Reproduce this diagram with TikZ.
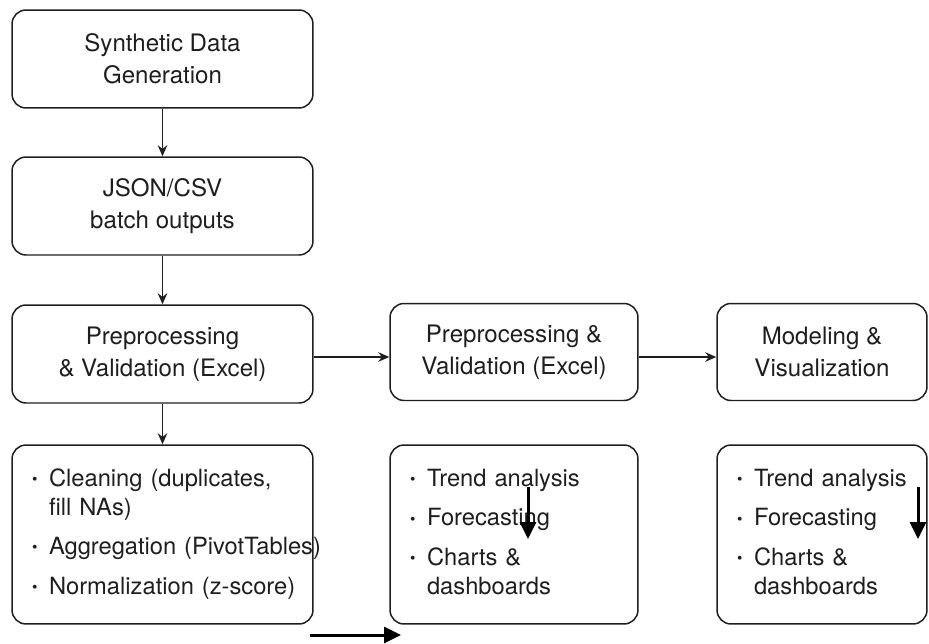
\documentclass[tikz,border=0pt]{standalone}
\usepackage{fontspec}
\setmainfont{TeX Gyre Heros}
\usepackage{xcolor}
\usetikzlibrary{arrows.meta, positioning, calc}
\definecolor{flowink}{HTML}{1E1E1E}

\newcommand{\itm}{\makebox[0.34cm][l]{\raisebox{0.15ex}{\scalebox{0.65}{\textbullet}}}}

\begin{document}
\begin{tikzpicture}[
    x=0.02cm, y=-0.02cm,
    stage/.style={draw=flowink,line width=0.85pt,rounded corners=0.28cm,align=center,
      font=\fontsize{13.7}{18}\selectfont,text=flowink,inner sep=0pt},
    headbox/.style={stage,minimum height=1.94cm},
    listbox/.style={stage,minimum height=3.58cm,align=left,inner xsep=0.4cm,
      font=\fontsize{13.5}{16.4}\selectfont},
    link/.style={-{Stealth[length=0.22cm,width=0.19cm]},line width=0.8pt,flowink},
    stray/.style={-{Triangle[length=0.34cm,width=0.32cm]},line width=1.7pt,black},
  ]
    \useasboundingbox (0,0) rectangle (929,643);

    % left column
    \node[headbox,minimum width=6.02cm,minimum height=1.96cm] (synth) at (162.5,59)
      {Synthetic Data\\Generation};
    \node[headbox,minimum width=6.02cm,minimum height=1.96cm] (batch) at (162.5,206)
      {JSON/CSV\\batch outputs};
    \node[headbox,minimum width=6.02cm,minimum height=1.96cm] (prepleft) at (162.5,354)
      {Preprocessing\\\& Validation (Excel)};
    \node[listbox,text width=5.22cm] (cleaning) at (162.5,534.5) {%
      \begin{tabular}{@{}l@{}l@{}}
        \itm & Cleaning (duplicates,\\
             & fill NAs)\\[6pt]
        \itm & Aggregation (PivotTables)\\[6pt]
        \itm & Normalization (z-score)
      \end{tabular}};

    % middle and right columns
    \node[headbox,minimum width=4.96cm] (prepmid) at (514,352)
      {Preprocessing \&\\Validation (Excel)};
    \node[headbox,minimum width=4.2cm] (modeling) at (822,352)
      {Modeling \&\\Visualization};
    \node[listbox,text width=4.16cm] (trendmid) at (514,534.5) {%
      \begin{tabular}{@{}l@{}l@{}}
        \itm & Trend analysis\\[6pt]
        \itm & Forecasting\\[6pt]
        \itm & Charts \&\\
             & dashboards
      \end{tabular}};
    \node[listbox,text width=3.4cm] (trendright) at (822,534.5) {%
      \begin{tabular}{@{}l@{}l@{}}
        \itm & Trend analysis\\[6pt]
        \itm & Forecasting\\[6pt]
        \itm & Charts \&\\
             & dashboards
      \end{tabular}};

    \draw[link] (synth) -- (batch);
    \draw[link] (batch) -- (prepleft);
    \draw[link] (prepleft) -- (cleaning);
    \coordinate (handoff) at ($(prepleft.east)+(0,3)$);
    \coordinate (handon) at ($(prepmid.east)+(0,5)$);
    \draw[link] (handoff) -- (handoff -| prepmid.west);
    \draw[link] (handon) -- (handon -| modeling.west);

    % loose arrows
    \coordinate (loosea) at (310,635);
    \coordinate (looseb) at (401,635);
    \coordinate (loosec) at (528,487);
    \coordinate (loosed) at (528,539);
    \coordinate (loosee) at (918,487);
    \coordinate (loosef) at (918,539);
    \draw[stray] (loosea) -- (looseb);
    \draw[stray] (loosec) -- (loosed);
    \draw[stray] (loosee) -- (loosef);
  \end{tikzpicture}
\end{document}
